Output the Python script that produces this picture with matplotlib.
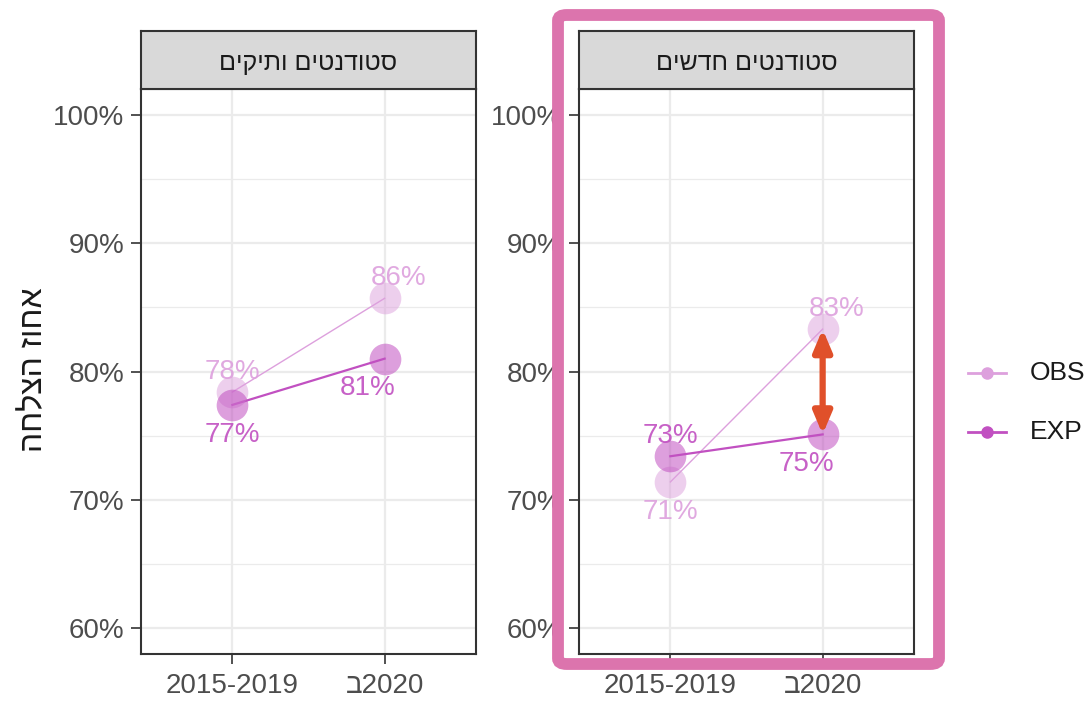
import numpy as np
import matplotlib
matplotlib.use("Agg")
import matplotlib.pyplot as plt
from matplotlib.patches import FancyBboxPatch

plt.rcParams['font.family'] = ['Liberation Sans', 'DejaVu Sans']

# Data
categories = ['2015-2019', 'ב2020']
panels = ['סטודנטים ותיקים', 'סטודנטים חדשים']
obs = [[78.4, 85.7], [71.4, 83.3]]   # OBS success rate per panel
exp = [[77.4, 81.0], [73.4, 75.1]]   # EXP success rate per panel
y_ticks = [60, 70, 80, 90, 100]
y_label = 'אחוז הצלחה'

# Colours
c_obs = '#DDA0DD'
c_exp = '#C150C1'
c_arrow = '#E0502A'
c_box = '#DC74AD'


def vis(s):
    # matplotlib has no bidi: write Hebrew in visual order
    return s[::-1]


W, H = 1091, 701
fig = plt.figure(figsize=(W / 100, H / 100), dpi=100)


def frac(x0, y0, x1, y1):
    return [x0 / W, 1 - y1 / H, (x1 - x0) / W, (y1 - y0) / H]


panel_x = [(141, 476), (579, 914)]
top, strip_top, bottom = 89, 31, 654
x = np.arange(1, len(categories) + 1)

for i, (x0, x1) in enumerate(panel_x):
    ax = fig.add_axes(frac(x0, top, x1, bottom))
    ax.set_xlim(0.4, 2.6)
    ax.set_ylim(58, 102)
    ax.set_yticks(y_ticks)
    ax.set_yticks([65, 75, 85, 95], minor=True)
    ax.set_yticklabels([f'{t}%' for t in y_ticks])
    ax.set_xticks(x)
    ax.set_xticklabels(categories)
    ax.grid(True, which='major', color='#EBEBEB', lw=1.6, zorder=0)
    ax.grid(True, which='minor', axis='y', color='#EBEBEB', lw=0.9, zorder=0)
    ax.tick_params(axis='both', which='major', labelsize=20, colors='#333333',
                   labelcolor='#4D4D4D', length=7, width=1.2, pad=5)
    ax.tick_params(axis='x', pad=7)
    ax.tick_params(which='minor', length=0)
    for sp in ax.spines.values():
        sp.set_color('#333333')
        sp.set_linewidth(1.5)
    ax.set_axisbelow(True)

    o, e = obs[i], exp[i]
    ax.plot(x, o, color=c_obs, lw=1.0, zorder=2)
    ax.plot(x, e, color=c_exp, lw=1.6, zorder=3)
    ax.scatter(x, o, s=520, color=c_obs, alpha=0.5, lw=0, zorder=4)
    ax.scatter(x, e, s=520, color=c_exp, alpha=0.55, lw=0, zorder=5)

    for j in range(len(x)):
        for val, other, col, dx in ((o[j], e[j], c_obs, [0, 10]),
                                    (e[j], o[j], c_exp, [0, -12])):
            up = val > other
            ax.annotate(f'{round(val)}%', (x[j], val),
                        xytext=(dx[j], 5 if up else -12), textcoords='offset points',
                        ha='center', va='bottom' if up else 'top',
                        fontsize=20, color=col, alpha=0.9, zorder=6)

    if i == 1:
        ax.annotate('', xy=(x[1], o[1]), xytext=(x[1], e[1]),
                    arrowprops=dict(arrowstyle='<|-|>,head_length=1.3,head_width=0.55',
                                    color=c_arrow, lw=4.5, shrinkA=0, shrinkB=0),
                    zorder=7)

    sax = fig.add_axes(frac(x0, strip_top, x1, top))
    sax.set_facecolor('#D9D9D9')
    sax.set_xticks([])
    sax.set_yticks([])
    for sp in sax.spines.values():
        sp.set_color('#333333')
        sp.set_linewidth(1.5)
    sax.text(0.5, 0.45, vis(panels[i]), ha='center', va='center',
             fontsize=18, color='#1A1A1A', transform=sax.transAxes)

fig.text(34 / W, 1 - 370 / H, vis(y_label), rotation=90, ha='center', va='center',
         fontsize=23, color='#1A1A1A')

# Legend
for k, (name, col) in enumerate((('OBS', c_obs), ('EXP', c_exp))):
    yy = 1 - (373 + 59 * k) / H
    fig.add_artist(plt.Line2D([968 / W, 1006 / W], [yy, yy], color=col, lw=2))
    fig.add_artist(plt.Line2D([987 / W], [yy], marker='o', ms=8, color=col))
    fig.text(1030 / W, yy, name, ha='left', va='center', fontsize=19, color='#1A1A1A')

# Highlight box around the second panel
box = FancyBboxPatch((558 / W, 1 - 664 / H), (939 - 558) / W, (664 - 15) / H,
                     boxstyle='round,pad=0,rounding_size=0.008',
                     transform=fig.transFigure, fill=False, ec=c_box, lw=8.5)
fig.add_artist(box)

fig.savefig('out.png', dpi=100)
